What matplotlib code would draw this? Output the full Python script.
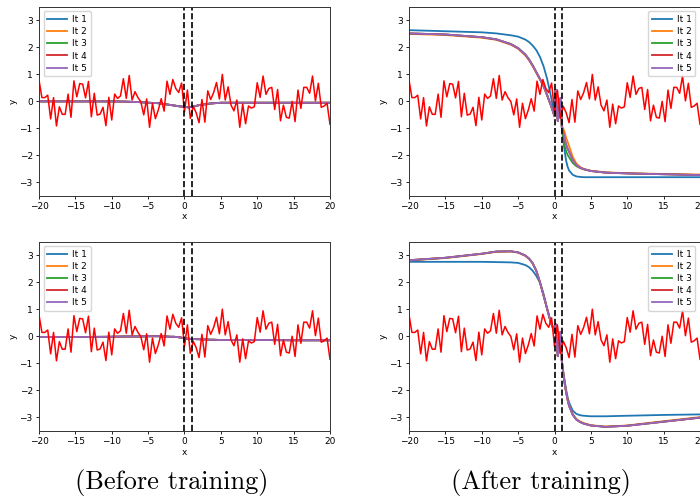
import numpy as np
from matplotlib import pyplot as plt

## noisy target, same in all four panels (x from -20 to 20, step 0.4)
noise_y = [0.79, 0.14, 0.14, 0.23, -0.65, 0.14, -0.91, -0.20, -0.48, -0.48,
           0.27, -0.59, 0.76, 0.17, 0.66, 0.64, 0.13, 0.74, -0.57, 0.30,
           -0.51, -0.47, -0.22, -0.90, 0.15, -0.69, 0.27, 0.11, 0.20, 0.84,
           0.11, 0.96, 0.05, 0.36, 0.14, -0.01, -0.50, 0.09, -0.96, -0.07,
           -0.64, -0.32, 0.10, -0.36, 0.75, 0.26, 0.81, 0.48, 0.33, 0.68,
           -0.38, 0.42, -0.63, -0.18, -0.42, -0.79, 0.07, -0.77, 0.39, 0.07,
           0.32, 0.70, 0.09, 1.00, 0.05, 0.54, -0.14, -0.35, 0.05, -0.96,
           -0.10, -0.83, -0.17, -0.25, -0.20, 0.69, 0.15, 0.94, 0.26, 0.48,
           0.52, -0.30, 0.44, -0.72, -0.14, -0.59, -0.62, 0.00, -0.75, 0.42,
           -0.26, 0.52, 0.52, 0.30, 0.94, 0.02, 0.67, -0.22, -0.17, -0.07,
           -0.85]
noise_x = np.linspace(-20, 20, len(noise_y))

## sample points for the iterate curves
xs = [-20, -15, -10, -8, -6, -5, -4, -3.5, -3, -2.5, -2, -1.5, -1, -0.5, 0,
      0.15, 0.3, 0.45, 0.6, 0.8, 0.95, 1,
      1.2, 1.4, 1.6, 1.8, 2, 2.5, 3, 3.5, 4, 5, 7, 10, 15, 20]

# before training, top
bt_base = [0.0, 0.0, 0.0, -0.01, -0.03, -0.05, -0.06, -0.07, -0.09, -0.11, -0.13, -0.15, -0.17, -0.19, -0.2,
           -0.21, -0.21, -0.22, -0.22, -0.21, -0.2, -0.2,
           -0.19, -0.18, -0.17, -0.15, -0.14, -0.12, -0.1, -0.08, -0.07, -0.05, -0.05, -0.05, -0.05, -0.05]
# before training, bottom
bb_base = [-0.03, -0.03, -0.02, -0.01, -0.01, 0.0, 0.0, 0.0, -0.01, -0.01, -0.02, -0.02, -0.03, -0.05, -0.08,
           -0.08, -0.09, -0.09, -0.09, -0.1, -0.1, -0.1,
           -0.1, -0.1, -0.11, -0.11, -0.11, -0.12, -0.12, -0.13, -0.13, -0.14, -0.14, -0.14, -0.15, -0.15]

# after training, top
at_it1 = [2.64, 2.6, 2.56, 2.52, 2.45, 2.4, 2.29, 2.2, 2.07, 1.9, 1.65, 1.3, 0.82, 0.2, -0.5,
          0.4, -0.2, -0.7, -0.5, 0.1, -0.5, -0.95,
          -1.4, -1.85, -2.2, -2.42, -2.56, -2.72, -2.78, -2.8, -2.81, -2.81, -2.81, -2.81, -2.81, -2.81]
at_it2 = [2.5, 2.46, 2.36, 2.28, 2.1, 1.95, 1.7, 1.52, 1.3, 1.05, 0.8, 0.55, 0.2, -0.15, -0.55,
          0.4, -0.2, -0.7, -0.5, 0.1, -0.5, -0.9,
          -1.0, -1.15, -1.35, -1.5, -1.65, -2.05, -2.3, -2.43, -2.5, -2.57, -2.63, -2.66, -2.69, -2.71]
at_it3 = [2.52, 2.48, 2.38, 2.3, 2.13, 1.98, 1.74, 1.56, 1.34, 1.09, 0.84, 0.58, 0.23, -0.14, -0.55,
          0.42, -0.2, -0.72, -0.5, 0.1, -0.5, -0.95,
          -1.35, -1.65, -1.85, -1.98, -2.07, -2.28, -2.4, -2.47, -2.52, -2.58, -2.64, -2.67, -2.7, -2.73]
at_it4 = [2.52, 2.48, 2.38, 2.3, 2.12, 1.97, 1.73, 1.55, 1.33, 1.08, 0.83, 0.57, 0.22, -0.14, -0.55,
          0.43, -0.2, -0.73, -0.5, 0.12, -0.5, -0.95,
          -1.15, -1.4, -1.6, -1.75, -1.87, -2.17, -2.36, -2.45, -2.51, -2.58, -2.64, -2.67, -2.7, -2.73]
at_it5 = [2.52, 2.48, 2.38, 2.3, 2.12, 1.97, 1.73, 1.55, 1.33, 1.08, 0.83, 0.57, 0.22, -0.14, -0.55,
          0.44, -0.2, -0.74, -0.5, 0.13, -0.5, -0.95,
          -1.15, -1.4, -1.6, -1.75, -1.87, -2.17, -2.36, -2.45, -2.51, -2.58, -2.64, -2.67, -2.7, -2.73]

# after training, bottom
ab_it1 = [2.75, 2.75, 2.75, 2.74, 2.73, 2.71, 2.63, 2.55, 2.42, 2.23, 1.98, 1.56, 1.0, 0.5, 0.15,
          0.45, -0.2, -0.72, -0.5, 0.15, -0.4, -0.9,
          -1.3, -1.65, -1.98, -2.25, -2.45, -2.75, -2.87, -2.92, -2.94, -2.96, -2.96, -2.94, -2.91, -2.89]
ab_it2 = [2.8, 2.89, 3.04, 3.12, 3.13, 3.09, 2.97, 2.86, 2.69, 2.41, 2.0, 1.5, 1.0, 0.5, 0.2,
          0.45, -0.2, -0.74, -0.5, 0.15, -0.4, -0.9,
          -1.33, -1.72, -2.05, -2.32, -2.54, -2.88, -3.06, -3.15, -3.21, -3.29, -3.34, -3.3, -3.14, -2.99]
ab_it3 = [2.81, 2.9, 3.05, 3.13, 3.14, 3.1, 2.98, 2.87, 2.7, 2.42, 2.0, 1.5, 1.0, 0.5, 0.2,
          0.45, -0.2, -0.74, -0.5, 0.15, -0.4, -0.9,
          -1.35, -1.75, -2.08, -2.35, -2.57, -2.9, -3.08, -3.17, -3.23, -3.3, -3.35, -3.31, -3.16, -3.01]
ab_it4 = [2.81, 2.9, 3.05, 3.13, 3.14, 3.1, 2.98, 2.87, 2.7, 2.42, 2.0, 1.5, 1.0, 0.5, 0.2,
          0.45, -0.2, -0.74, -0.5, 0.15, -0.4, -0.9,
          -1.35, -1.75, -2.08, -2.35, -2.57, -2.9, -3.08, -3.17, -3.23, -3.3, -3.35, -3.31, -3.16, -3.01]
ab_it5 = [2.81, 2.9, 3.05, 3.13, 3.14, 3.1, 2.98, 2.87, 2.7, 2.42, 2.0, 1.5, 1.0, 0.5, 0.2,
          0.45, -0.2, -0.74, -0.5, 0.15, -0.4, -0.9,
          -1.35, -1.75, -2.08, -2.35, -2.57, -2.9, -3.08, -3.17, -3.23, -3.3, -3.35, -3.31, -3.16, -3.01]

panels = [
    ([bt_base] * 5, [0.0557, 0.606, 0.4157, 0.38], "upper left"),
    ([at_it1, at_it2, at_it3, at_it4, at_it5], [0.5843, 0.606, 0.4157, 0.38], "upper right"),
    ([bb_base] * 5, [0.0557, 0.133, 0.4157, 0.381], "upper left"),
    ([ab_it1, ab_it2, ab_it3, ab_it4, ab_it5], [0.5843, 0.133, 0.4157, 0.381], "upper right"),
]
it_colors = ["tab:blue", "tab:orange", "tab:green", "tab:red", "tab:purple"]
it_labels = ["It 1", "It 2", "It 3", "It 4", "It 5"]

fig = plt.figure(figsize=(7, 4.97), dpi=100)
for curves, rect, loc in panels:
    ax = fig.add_axes(rect)
    for c, col, lab in zip(curves, it_colors, it_labels):
        ax.plot(xs, c, color=col, label=lab, lw=1.3)
    ax.plot(noise_x, noise_y, color="red", lw=1.1)
    ax.axvline(0, color="k", ls="--", lw=1.2)
    ax.axvline(1, color="k", ls="--", lw=1.2)
    ax.set_xlim(-20, 20)
    ax.set_ylim(-3.5, 3.5)
    ax.set_xticks([-20, -15, -10, -5, 0, 5, 10, 15, 20])
    ax.set_yticks([-3, -2, -1, 0, 1, 2, 3])
    ax.tick_params(labelsize=6.5, length=2.5, width=0.6, pad=2)
    ax.set_xlabel("x", fontsize=6.5, labelpad=1)
    ax.set_ylabel("y", fontsize=6.5, labelpad=1)
    for s in ax.spines.values():
        s.set_linewidth(0.7)
        s.set_color("#333333")
    ax.legend(loc=loc, fontsize=6.5, handlelength=2.2, labelspacing=0.35,
              borderpad=0.4, handletextpad=0.6)

fig.text(0.245, 0.016, "(Before training)", family="cmr10", fontsize=19, ha="center", va="baseline")
fig.text(0.773, 0.016, "(After training)", family="cmr10", fontsize=19, ha="center", va="baseline")

fig.savefig("out.png", dpi=100)
